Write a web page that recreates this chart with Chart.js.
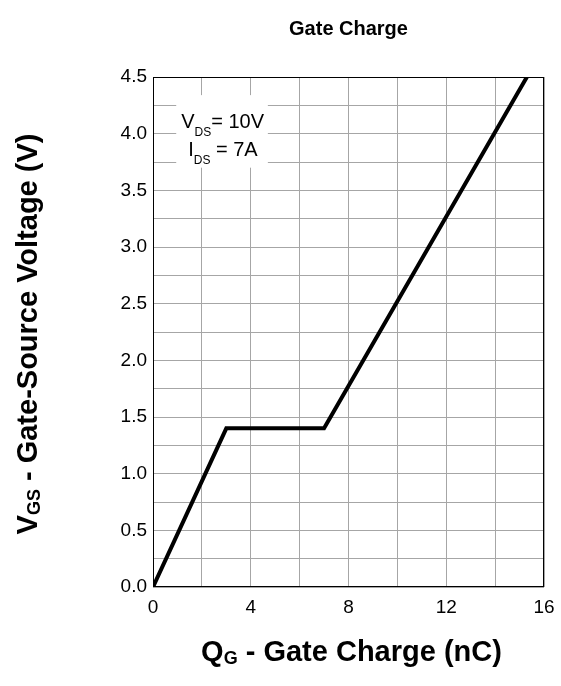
<!DOCTYPE html>
<html>
<head>
<meta charset="utf-8">
<script src="https://cdn.jsdelivr.net/npm/chart.js@4.4.1/dist/chart.umd.min.js"></script>
<style>
  html, body { margin: 0; padding: 0; background: #fff; }
  #wrap { width: 561px; height: 686px; position: relative; }
</style>
</head>
<body>
<div id="wrap"><canvas id="chart"></canvas></div>
<script>
const FONT = '"Liberation Sans", Arial, sans-serif'
const COLOR_GRID = "#a6a6a6"

// gate charge curve (nC vs V)
const chargeNc = [0, 3, 7, 15.3]
const gateVolts = [0, 1.4, 1.4, 4.5]

const xRange = [0, 16]
const yRange = [0, 4.5]
const titleText = "Gate Charge"
const legendLines = [["V", "DS", "= 10V"], ["I", "DS", " = 7A"]]

// draws text pieces left to right, small ones dropped as subscripts
function drawRuns(ctx, runs, x, y, align) {
  let total = 0
  runs.forEach((r) => {
    ctx.font = r.font
    total += ctx.measureText(r.t).width
  })
  let cx = align === "center" ? x - total / 2 : x
  ctx.textAlign = "left"
  ctx.textBaseline = "alphabetic"
  runs.forEach((r) => {
    ctx.font = r.font
    ctx.fillText(r.t, cx, y + (r.dy || 0))
    cx += ctx.measureText(r.t).width
  })
}

const overlay = {
  id: "overlay",
  beforeDatasetsDraw(chart) {
    const ctx = chart.ctx
    const { x, y } = chart.scales
    // white box behind the test conditions
    const left = x.getPixelForValue(0.95)
    const right = x.getPixelForValue(4.7)
    const top = y.getPixelForValue(4.34)
    const bottom = y.getPixelForValue(3.7)
    ctx.save()
    ctx.fillStyle = "#fff"
    ctx.fillRect(left, top, right - left, bottom - top)
    ctx.fillStyle = "#000"
    const big = `20px ${FONT}`
    const small = `12px ${FONT}`
    drawRuns(ctx, [
      { t: legendLines[0][0], font: big },
      { t: legendLines[0][1], font: small, dy: 8 },
      { t: legendLines[0][2], font: big },
    ], left + 5, y.getPixelForValue(4.05))
    drawRuns(ctx, [
      { t: legendLines[1][0], font: big },
      { t: legendLines[1][1], font: small, dy: 8 },
      { t: legendLines[1][2], font: big },
    ], left + 12, y.getPixelForValue(3.8))
    ctx.restore()
  },
  afterDraw(chart) {
    const ctx = chart.ctx
    const a = chart.chartArea
    const midX = (a.left + a.right) / 2
    const midY = (a.top + a.bottom) / 2
    ctx.save()
    ctx.strokeStyle = "#000"
    ctx.lineWidth = 1
    ctx.strokeRect(a.left + 0.5, a.top + 0.5, a.right - a.left - 1, a.bottom - a.top - 1)

    ctx.fillStyle = "#000"
    drawRuns(ctx, [{ t: titleText, font: `bold 20px ${FONT}` }], midX, 35, "center")

    const bigB = `bold 29px ${FONT}`
    const subB = `bold 18px ${FONT}`
    drawRuns(ctx, [
      { t: "Q", font: bigB },
      { t: "G", font: subB, dy: 3 },
      { t: " - Gate Charge (nC)", font: bigB },
    ], midX + 3, 661, "center")

    ctx.translate(37, midY + 2)
    ctx.rotate(-Math.PI / 2)
    drawRuns(ctx, [
      { t: "V", font: bigB },
      { t: "GS", font: subB, dy: 3 },
      { t: " - Gate-Source Voltage (V)", font: bigB },
    ], 0, 0, "center")
    ctx.restore()
  },
}

new Chart(document.getElementById("chart"), {
  type: "line",
  data: {
    datasets: [
      {
        data: chargeNc.map((q, i) => ({ x: q, y: gateVolts[i] })),
        borderColor: "#000",
        borderWidth: 4,
        borderJoinStyle: "miter",
        pointRadius: 0,
        tension: 0,
        fill: false,
      },
    ],
  },
  options: {
    responsive: true,
    maintainAspectRatio: false,
    animation: false,
    layout: { padding: { top: 77, right: 17, left: 0, bottom: 0 } },
    scales: {
      x: {
        type: "linear",
        min: xRange[0],
        max: xRange[1],
        ticks: {
          stepSize: 2,
          autoSkip: false,
          maxRotation: 0,
          color: "#000",
          padding: 9,
          font: { family: FONT, size: 19 },
          callback: (v) => (v % 4 === 0 ? String(v) : ""),
        },
        grid: { color: COLOR_GRID, lineWidth: 1, drawTicks: false },
        border: { display: false },
        afterFit: (s) => {
          s.height = 99
          s.paddingLeft = 0
          s.paddingRight = 0
        },
      },
      y: {
        min: yRange[0],
        max: yRange[1],
        ticks: {
          stepSize: 0.25,
          autoSkip: false,
          color: "#000",
          padding: 6,
          font: { family: FONT, size: 19 },
          callback: (v) => (Math.abs(v * 2 - Math.round(v * 2)) < 1e-6 ? v.toFixed(1) : ""),
        },
        grid: { color: COLOR_GRID, lineWidth: 1, drawTicks: false },
        border: { display: false },
        afterFit: (s) => {
          s.width = 153
          s.paddingTop = 0
          s.paddingBottom = 0
        },
      },
    },
    plugins: {
      legend: { display: false },
      tooltip: { enabled: false },
    },
  },
  plugins: [overlay],
})
</script>
</body>
</html>
